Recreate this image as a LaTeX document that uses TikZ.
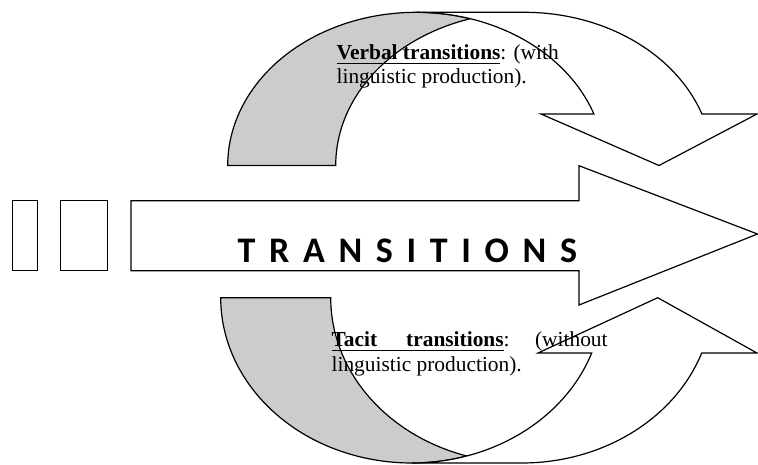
\documentclass[tikz,border=0pt]{standalone}
\usepackage{fontspec}
\setmainfont{Liberation Serif}
\newfontfamily\bannerfont[LetterSpace=38]{Carlito}
\definecolor{backband}{RGB}{204,204,204}
\newcommand{\ulined}[1]{\setbox0\hbox{#1}\rlap{\rule[-4.7pt]{\wd0}{1.4pt}}\box0}

\begin{document}
\begin{tikzpicture}[x=1pt,y=1pt,line width=1.2pt,line join=miter]
  \tikzset{
    front/.style={draw=black,fill=white},
    underside/.style={draw=black,fill=backband},
    note/.style={inner sep=0pt,anchor=base west,text width=276pt,
      font=\fontsize{21.4}{24.5}\selectfont}
  }
  \useasboundingbox (0,0) rectangle (758,-464);
  % upper curved arrow
  \draw[underside] (227.7,-165.5)
    arc[start angle=180,end angle=73.36,x radius=188.6,y radius=153.2]
    arc[start angle=106.64,end angle=180,x radius=188.6,y radius=153.2] -- cycle;
  \draw[front] (593.9,-114)
    arc[start angle=19.64,end angle=90,x radius=188.6,y radius=153.2]
    -- (524.3,-12.3)
    arc[start angle=90,end angle=19.64,x radius=188.6,y radius=153.2]
    -- (757,-114) -- (659,-165.5) -- (541,-114) -- cycle;
  % lower curved arrow
  \draw[underside] (220.7,-297.7)
    arc[start angle=180,end angle=286.74,x radius=191,y radius=165.3]
    arc[start angle=253.26,end angle=180,x radius=191,y radius=165.3] -- cycle;
  \draw[front] (591.7,-353)
    arc[start angle=-19.55,end angle=-90,x radius=191,y radius=165.3]
    -- (521.7,-463)
    arc[start angle=-90,end angle=-19.55,x radius=191,y radius=165.3]
    -- (757,-353) -- (657.7,-297.7) -- (538,-353) -- cycle;
  % main arrow and the two boxes
  \draw[front] (12.7,-200.7) rectangle (37.3,-270.7);
  \draw[front] (60.7,-200.7) rectangle (107.7,-270.7);
  \draw[front] (131,-200.7) -- (579,-200.7) -- (579,-165.7) -- (757.5,-234)
    -- (579,-305) -- (579,-270.7) -- (131,-270.7) -- cycle;
  % labels
  \node[inner sep=0pt,anchor=base west] (title) at (237,-262.7)
    {\bannerfont\bfseries\fontsize{36}{36}\selectfont TRANSITIONS};
  \node[note,align=flush left] (verbal) at (336,-59.3)
    {\ulined{\textbf{Verbal transitions}}: (with\\linguistic production).};
  \node[note,align=justify] (tacit) at (331,-346.7)
    {\ulined{\textbf{Tacit}\hspace{29pt}\textbf{transitions}}: (without\linebreak
     linguistic production).};
\end{tikzpicture}
\end{document}
